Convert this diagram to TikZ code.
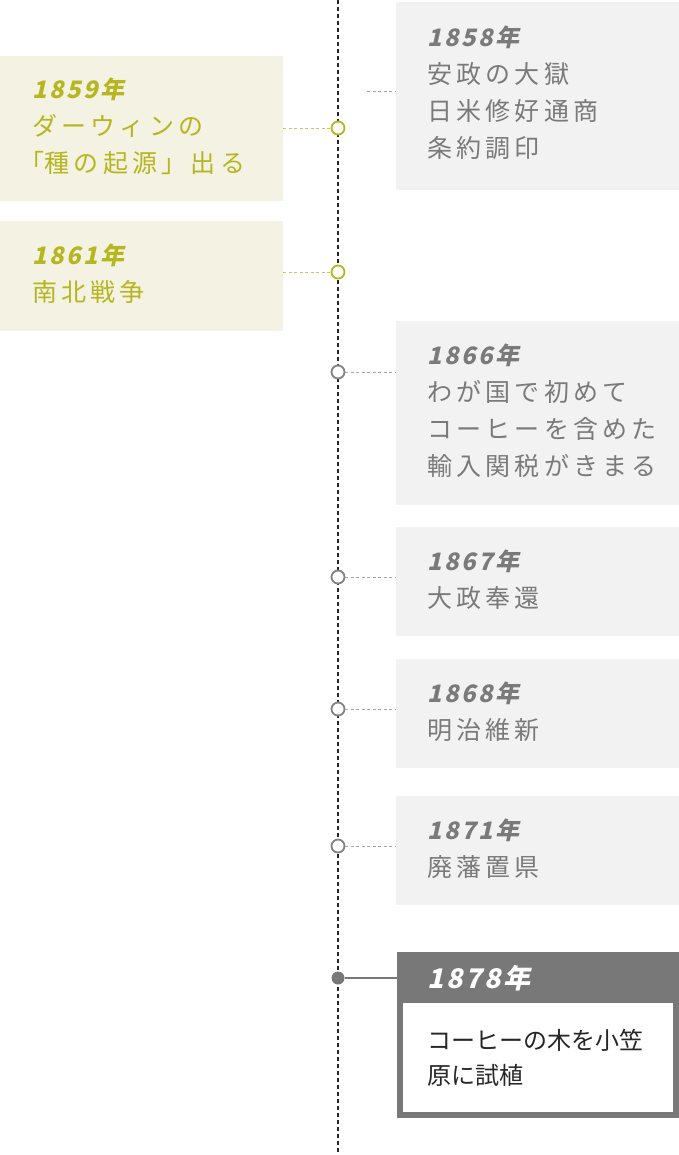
\documentclass[tikz,border=0pt]{standalone}
\usepackage{fontspec}
\setmainfont{Noto Sans CJK JP}
\newfontfamily\jpwide{Noto Sans CJK JP}[LetterSpace=17]
\newfontfamily\jpyear{Noto Sans CJK JP}[FakeSlant=0.22, LetterSpace=10]
\usepackage{xcolor}
\usepackage{tikz}
\usetikzlibrary{positioning, calc}
\definecolor{olivetext}{RGB}{182,182,32}
\definecolor{olivebg}{RGB}{243,242,227}
\definecolor{olivelink}{RGB}{200,200,90}
\definecolor{greybg}{RGB}{242,242,242}
\definecolor{greytext}{RGB}{122,122,122}
\definecolor{greylink}{RGB}{165,165,165}
\definecolor{greyring}{RGB}{130,130,130}
\definecolor{headgrey}{RGB}{120,120,120}
\newcommand{\yr}[1]{{\jpyear\bfseries\fontsize{24}{37}\selectfont #1}}
\newcommand{\hw}[1]{{\addfontfeature{RawFeature=+halt}#1}}
\tikzset{
	timeaxis/.style={draw=black!85, line width=2pt, dash pattern=on 4pt off 3pt},
	greybox/.style={anchor=north west, fill=greybg, minimum width=283pt, inner sep=0pt},
	olivebox/.style={anchor=north west, fill=olivebg, minimum width=283pt, inner sep=0pt},
	greytxt/.style={inner sep=0pt, align=left, text=greytext, font=\jpwide\fontsize{25}{37}\selectfont},
	olivetxt/.style={inner sep=0pt, align=left, text=olivetext, font=\jpwide\fontsize{25}{37}\selectfont},
	ringgrey/.style={circle, draw=greyring, line width=1.8pt, fill=white, minimum size=13pt, inner sep=0pt},
	ringolive/.style={circle, draw=olivetext, line width=1.8pt, fill=white, minimum size=13pt, inner sep=0pt},
	linkgrey/.style={draw=greylink, line width=0.9pt, dash pattern=on 3pt off 2.5pt},
	linkolive/.style={draw=olivelink, line width=0.9pt, dash pattern=on 3pt off 2.5pt},
}
\begin{document}
\begin{tikzpicture}[x=1pt, y=-1pt]
	\useasboundingbox (0,0) rectangle (679,1155);
	% Time axis
	\coordinate (axtop) at (338,0);
	\coordinate (axbot) at (338,1152);
	\draw[timeaxis] (axtop) -- (axbot);
	% Right-hand events
	\node[greybox, minimum height=188pt] (ev1858) at (396,2) {};
	\node[greytxt, right=31pt of ev1858.west, yshift=3pt] (t1858) {\yr{1858年}\\安政の大獄\\日米修好通商\\条約調印};
	\node[greybox, minimum height=184pt] (ev1866) at (396,321) {};
	\node[greytxt, right=31pt of ev1866.west, yshift=2pt] (t1866) {\yr{1866年}\\わが国で初めて\\コーヒーを含めた\\輸入関税がきまる};
	\node[greybox, minimum height=109pt] (ev1867) at (396,527) {};
	\node[greytxt, right=31pt of ev1867.west, yshift=2pt] (t1867) {\yr{1867年}\\大政奉還};
	\node[greybox, minimum height=109pt] (ev1868) at (396,659) {};
	\node[greytxt, right=31pt of ev1868.west, yshift=2pt] (t1868) {\yr{1868年}\\明治維新};
	\node[greybox, minimum height=109pt] (ev1871) at (396,796) {};
	\node[greytxt, right=31pt of ev1871.west, yshift=2pt] (t1871) {\yr{1871年}\\廃藩置県};
	% Left-hand events
	\node[olivebox, minimum height=145pt] (ev1859) at (0,56) {};
	\node[olivetxt, right=32pt of ev1859.west, yshift=2pt] (t1859) {\yr{1859年}\\ダーウィンの\\\hw{「}種の起源」出る};
	\node[olivebox, minimum height=110pt] (ev1861) at (0,221) {};
	\node[olivetxt, right=32pt of ev1861.west, yshift=2pt] (t1861) {\yr{1861年}\\南北戦争};
	% Markers on the axis
	\node[ringolive] (c1859) at (338,128) {};
	\node[ringolive] (c1861) at (338,272) {};
	\node[ringgrey] (c1866) at (338,372) {};
	\node[ringgrey] (c1867) at (338,577) {};
	\node[ringgrey] (c1868) at (338,709) {};
	\node[ringgrey] (c1871) at (338,846) {};
	\node[circle, fill=headgrey, minimum size=13pt, inner sep=0pt] (c1878) at (338,978) {};
	% Connectors
	\coordinate (tick1858) at (367,91);
	\draw[linkgrey] (tick1858) -- (tick1858 -| ev1858.west);
	\draw[linkolive] (ev1859.east |- c1859) -- (c1859);
	\draw[linkolive] (ev1861.east |- c1861) -- (c1861);
	\draw[linkgrey] (c1866) -- (c1866 -| ev1866.west);
	\draw[linkgrey] (c1867) -- (c1867 -| ev1867.west);
	\draw[linkgrey] (c1868) -- (c1868 -| ev1868.west);
	\draw[linkgrey] (c1871) -- (c1871 -| ev1871.west);
	% Highlighted event
	\node[anchor=north west, fill=headgrey, minimum width=282pt, minimum height=166pt, inner sep=0pt] (ev1878) at (397,952) {};
	\node[anchor=north west, fill=white, minimum width=270pt, minimum height=109pt, inner sep=0pt] (body1878) at (403,1003) {};
	\node[anchor=west, inner sep=0pt, text=white, font=\jpyear\bfseries\fontsize{27}{30}\selectfont] (y1878) at (427,978) {1878年};
	\node[inner sep=0pt, align=left, text=black!85, font=\fontsize{24}{35}\selectfont, right=24pt of body1878.west] (t1878) {コーヒーの木を小笠\\原に試植};
	\draw[draw=headgrey, line width=2pt] (c1878) -- (c1878 -| ev1878.west);
\end{tikzpicture}
\end{document}
